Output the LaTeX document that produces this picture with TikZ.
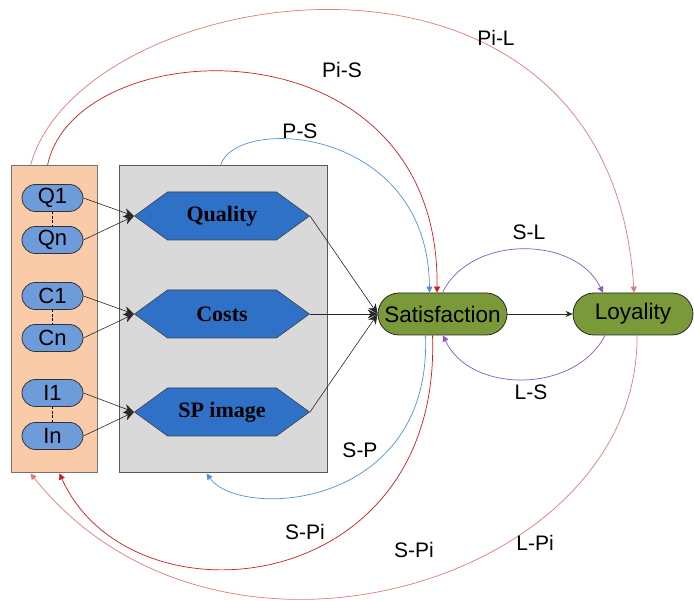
\documentclass[tikz,border=0pt]{standalone}
\usepackage{fontspec}
\setmainfont{Liberation Sans}
\newfontfamily\hexfont{Liberation Serif}
\usetikzlibrary{shapes.misc,shapes.symbols,arrows.meta,calc}

\definecolor{peach}{HTML}{FACBA8}
\definecolor{panelgray}{HTML}{D9D9D9}
\definecolor{itemblue}{HTML}{6E9CDB}
\definecolor{dimblue}{HTML}{3071C8}
\definecolor{stategreen}{HTML}{7A9A3A}
\definecolor{linkblue}{HTML}{5090DC}
\definecolor{linkred}{HTML}{D41A1A}
\definecolor{linkpink}{HTML}{E07A74}
\definecolor{linkpurple}{HTML}{8A55C4}

\tikzset{
  panel/.style={draw=#1, line width=1pt, inner sep=0pt},
  item/.style={rounded rectangle, draw=black!80, line width=0.8pt, fill=itemblue,
    minimum width=61pt, minimum height=27pt, inner sep=0pt,
    font=\fontsize{22}{22}\selectfont},
  dim/.style={signal, signal to=west and east, signal pointer angle=72,
    draw=black!75, line width=0.6pt, fill=dimblue, minimum width=175pt,
    minimum height=48pt, inner sep=0pt,
    font=\hexfont\bfseries\fontsize{22}{22}\selectfont},
  state/.style={rounded rectangle, draw=black!85, line width=0.8pt, fill=stategreen,
    minimum height=42pt, inner sep=0pt, font=\fontsize{22.5}{22.5}\selectfont},
  lbl/.style={inner sep=0pt, font=\fontsize{21}{21}\selectfont},
  feed/.style={draw=black!85, line width=0.6pt, -{Stealth[length=10pt,width=9pt]}},
  chain/.style={draw=black, line width=1.5pt, dash pattern=on 2.5pt off 1.8pt},
  link/.style={line width=0.7pt, -{Triangle[length=6pt,width=6pt]}},
}

\begin{document}
\begin{tikzpicture}[x=1pt,y=-1pt]
\useasboundingbox (0,0) rectangle (694,601);

% panels
\node[panel=black!55, fill=peach, minimum width=86pt, minimum height=307pt] (inbox) at (54,319.5) {};
\node[panel=black!65, fill=panelgray, minimum width=208pt, minimum height=307pt] (dimbox) at (223,319.5) {};

% indicator items
\node[item] (q1) at (52.5,198) {Q1};
\node[item] (qn) at (52.5,240) {Qn};
\node[item] (c1) at (52.5,296) {C1};
\node[item] (cn) at (52.5,338) {Cn};
\node[item] (i1) at (52.5,393) {I1};
\node[item] (in) at (52.5,436) {In};

\draw[chain] (q1.south) -- (qn.north);
\draw[chain] (c1.south) -- (cn.north);
\draw[chain] (i1.south) -- (in.north);

% dimensions
\node[dim] (qual) at (222,216) {Quality};
\node[dim] (cost) at (222,314) {Costs};
\node[dim] (img) at (222,412) {SP image};

% outcome states
\node[state, minimum width=129pt] (sat) at (442.5,314) {Satisfaction};
\node[state, minimum width=120pt] (loy) at (633,314) {Loyality};

% indicators to dimensions
\draw[feed] (q1.east) -- (qual.west);
\draw[feed] (qn.east) -- (qual.west);
\draw[feed] (c1.east) -- (cost.west);
\draw[feed] (cn.east) -- (cost.west);
\draw[feed] (i1.east) -- (img.west);
\draw[feed] (in.east) -- (img.west);

% dimensions to satisfaction
\draw[feed] (qual.east) -- (sat.west);
\draw[feed] (cost.east) -- (sat.west);
\draw[feed] (img.east) -- (sat.west);
\draw[draw=black!85, line width=0.6pt, -{Stealth[length=7pt,width=6pt]}] (sat.east) -- (loy.west);

% end points of the feedback arcs
\coordinate (pilStart) at ($(inbox.north west)+(20,0)$);
\coordinate (pisStart) at ($(inbox.north west)+(37,0)$);
\coordinate (psStart)  at ($(dimbox.north west)+(102,0)$);
\coordinate (spEnd)    at ($(dimbox.south west)+(88,0)$);
\coordinate (spiEnd)   at ($(inbox.south west)+(49,0)$);
\coordinate (lpiEnd)   at ($(inbox.south west)+(20,0)$);
\coordinate (satPS)  at ($(sat.north)+(-13,0)$);
\coordinate (satPiS) at ($(sat.north)+(-5.5,0)$);
\coordinate (satSL)  at ($(sat.north)+(0,0)$);
\coordinate (satSP)  at ($(sat.south)+(-17,0)$);
\coordinate (satSPi) at ($(sat.south)+(-10,0)$);
\coordinate (satLS)  at ($(sat.south)+(0.5,0)$);
\coordinate (loyPiL) at ($(loy.north)+(1,0)$);
\coordinate (loySL)  at ($(loy.north)+(-30,0)$);
\coordinate (loyLS)  at ($(loy.south)+(-28,0)$);
\coordinate (loyLPi) at ($(loy.south)+(4,0)$);

% arcs above
\draw[link, linkpink] (pilStart) .. controls (80,-20) and (610,-105) .. (loyPiL);
\draw[link, linkred] (pisStart) .. controls (75,30) and (440,15) .. (satPiS);
\draw[link, linkblue] (psStart) .. controls (235,115) and (428,125) .. (satPS);
\draw[link, linkpurple] (satSL) .. controls (470,235) and (575,235) .. (loySL);

% arcs below
\draw[link, linkpurple] (loyLS) .. controls (575,394) and (470,394) .. (satLS);
\draw[link, linkblue] (satSP) .. controls (432,510) and (240,520) .. (spEnd);
\draw[link, linkred] (satSPi) .. controls (442,600) and (130,630) .. (spiEnd);
\draw[link, linkpink] (loyLPi) .. controls (640,580) and (220,710) .. (lpiEnd);

% arc labels
\node[lbl] (tPS)  at (300,131) {P-S};
\node[lbl] (tPiS) at (342,70) {Pi-S};
\node[lbl] (tPiL) at (496,38) {Pi-L};
\node[lbl] (tSL)  at (529,232) {S-L};
\node[lbl] (tLS)  at (531,392) {L-S};
\node[lbl] (tSP)  at (360,450) {S-P};
\node[lbl] (tSPi) at (305,532) {S-Pi};
\node[lbl] (tSPi2) at (414,550) {S-Pi};
\node[lbl] (tLPi) at (535,543) {L-Pi};
\end{tikzpicture}
\end{document}
